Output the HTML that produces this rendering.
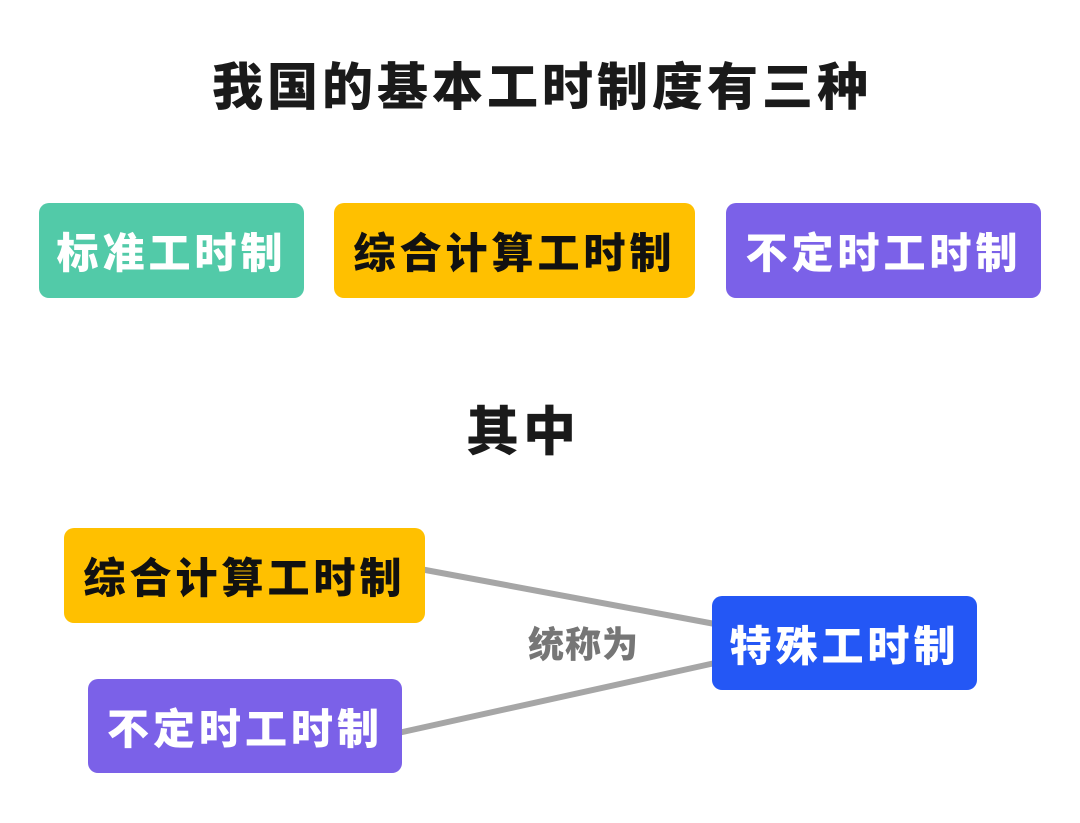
<!DOCTYPE html>
<html><head><meta charset="utf-8"><style>
body{margin:0;width:1080px;height:823px;background:#fff;position:relative;overflow:hidden;font-family:"Liberation Sans","Noto Sans CJK SC",sans-serif;font-weight:900}
.t{position:absolute;white-space:nowrap;text-align:center}
.b{position:absolute;border-radius:10px;display:flex;align-items:center;justify-content:center;font-size:42px;letter-spacing:4px;white-space:nowrap}
</style></head><body>
<div class="t" style="left:0;width:1084px;top:46px;font-size:51px;letter-spacing:4px;color:#1a1a1a">我国的基本工时制度有三种</div>
<div class="b" style="left:39px;top:203px;width:265px;height:95px;background:#52CAA8;color:#fff">标准工时制</div>
<div class="b" style="left:334px;top:203px;width:361px;height:95px;background:#FFC000;color:#111">综合计算工时制</div>
<div class="b" style="left:726px;top:203px;width:315px;height:95px;background:#7B61E8;color:#fff">不定时工时制</div>
<div class="t" style="left:0;width:1046px;top:390px;font-size:53px;letter-spacing:4px;color:#1a1a1a">其中</div>
<svg style="position:absolute;left:0;top:0" width="1080" height="823"><line x1="420" y1="569" x2="715" y2="624" stroke="#A6A6A6" stroke-width="6"/><line x1="398" y1="733" x2="715" y2="663" stroke="#A6A6A6" stroke-width="6"/></svg>
<div class="b" style="left:64px;top:528px;width:361px;height:95px;background:#FFC000;color:#111">综合计算工时制</div>
<div class="b" style="left:88px;top:679px;width:314px;height:94px;background:#7B61E8;color:#fff">不定时工时制</div>
<div class="b" style="left:712px;top:596px;width:265px;height:94px;background:#2457F5;color:#fff">特殊工时制</div>
<div class="t" style="left:528px;top:616px;font-size:36px;color:#767676;letter-spacing:1px">统称为</div>
</body></html>
